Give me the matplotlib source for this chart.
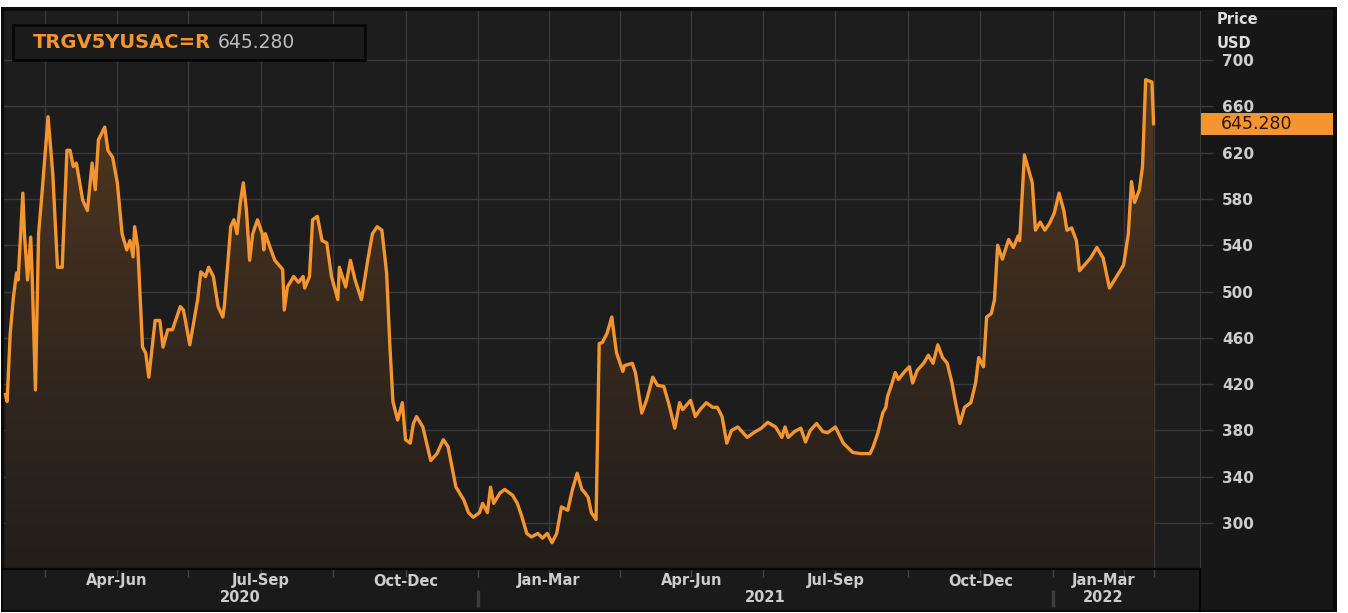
import matplotlib
matplotlib.use("Agg")
import matplotlib.pyplot as plt
import matplotlib.dates as mdates
from matplotlib.patches import Rectangle, Polygon
from matplotlib.colors import LinearSegmentedColormap
import numpy as np
import pandas as pd

# ---------------------------------------------------------------- data
ric        = "TRGV5YUSAC=R"
last_value = "645.280"
start_day  = pd.Timestamp("2020-03-01")

# day offsets from start_day, and the price
day_offset = [6, 7, 9, 11, 13, 14, 17, 18, 20, 22, 23, 25, 27, 29, 33, 36, 39, 42, 45, 47,
              49, 51, 55, 58, 61, 63, 65, 69, 71, 74, 77, 80, 83, 85, 87, 88, 90, 93, 95, 97,
              101, 104, 106, 109, 112, 117, 119, 123, 128, 130, 133, 135, 138, 141, 144, 145, 149, 151, 153, 155,
              157, 159, 161, 163, 166, 169, 170, 171, 174, 177, 182, 183, 185, 189, 192, 195, 196, 199, 201, 204,
              207, 210, 213, 217, 218, 222, 225, 228, 232, 236, 239, 242, 245, 248, 250, 252, 255, 258, 260, 263,
              265, 267, 271, 276, 280, 284, 287, 292, 293, 297, 300, 303, 307, 309, 312, 314, 316, 320, 323, 328,
              331, 334, 337, 340, 344, 347, 350, 353, 356, 359, 363, 366, 369, 372, 374, 376, 378, 381, 383, 385,
              388, 391, 392, 394, 398, 399, 404, 406, 410, 413, 417, 420, 424, 427, 431, 434, 436, 441, 444, 447,
              451, 455, 458, 461, 464, 467, 471, 477, 481, 486, 490, 495, 499, 501, 503, 507, 511, 514, 517, 521,
              525, 528, 533, 538, 544, 549, 555, 557, 560, 563, 565, 566, 569, 571, 573, 577, 580, 582, 585, 589,
              592, 595, 598, 601, 604, 607, 609, 612, 615, 619, 622, 624, 627, 629, 632, 634, 636, 639, 643, 646,
              649, 650, 653, 658, 660, 663, 666, 669, 672, 675, 678, 680, 683, 686, 688, 695, 699, 703, 707, 712,
              716, 719, 721, 723, 726, 728, 730, 734, 735]
price = [411, 405, 464, 495, 516, 510, 585, 550, 510, 547, 510, 415, 550, 582, 651, 602, 521, 521, 622, 622,
         608, 611, 579, 570, 611, 588, 631, 642, 622, 616, 594, 550, 536, 544, 530, 556, 538, 452, 447, 426,
         475, 475, 452, 467, 467, 487, 484, 454, 493, 517, 513, 521, 513, 487, 478, 488, 556, 562, 550, 576,
         594, 570, 527, 550, 562, 550, 536, 550, 538, 527, 519, 484, 504, 513, 508, 513, 503, 513, 562, 565,
         544, 542, 513, 493, 521, 504, 527, 510, 493, 527, 550, 556, 553, 516, 455, 405, 389, 404, 372, 369,
         386, 392, 383, 354, 360, 372, 366, 331, 329, 320, 309, 305, 309, 317, 309, 331, 317, 326, 329, 324,
         317, 305, 291, 288, 291, 287, 291, 283, 291, 314, 311, 329, 343, 329, 326, 322, 309, 303, 455, 456,
         464, 478, 467, 447, 431, 436, 438, 430, 395, 406, 426, 419, 418, 404, 382, 404, 398, 406, 392, 398,
         404, 400, 400, 392, 369, 380, 383, 374, 378, 382, 387, 383, 374, 383, 374, 379, 382, 370, 380, 386,
         379, 378, 383, 369, 361, 360, 360, 366, 378, 395, 400, 409, 421, 430, 424, 431, 435, 421, 432, 438,
         445, 438, 454, 443, 438, 421, 406, 386, 400, 404, 421, 443, 435, 478, 481, 493, 540, 528, 545, 538,
         548, 544, 618, 594, 553, 560, 553, 559, 568, 585, 570, 553, 555, 544, 518, 529, 538, 529, 503, 514,
         523, 550, 595, 577, 588, 608, 683, 681, 645]

y_ticks       = [300, 340, 380, 420, 460, 500, 540, 580, 620, 660, 700]
quarter_names = {1: "Jan-Mar", 4: "Apr-Jun", 7: "Jul-Sep", 10: "Oct-Dec"}
years         = [2020, 2021, 2022]

# ---------------------------------------------------------------- colours
ORANGE   = "#f5952f"
PLOT_BG  = "#1d1d1d"
PANEL_BG = "#171717"
BAND_BG  = "#1a1a1a"
GRID     = "#3a3a3a"
EDGE     = "#0b0b0b"
TXT      = "#cdcdcd"

W, H = 1348, 613
fig = plt.figure(figsize=(W / 100, H / 100), dpi=100)
fig.patch.set_facecolor("white")

def fx(px):
    return px / W

def fy(py):
    return 1 - py / H

# outer dark frame + right panel + x band (behind the axes)
fig.add_artist(Rectangle((fx(1), fy(612)), fx(1337) - fx(1), (612 - 7) / H,
                         facecolor=EDGE, edgecolor="none", zorder=-3))
fig.add_artist(Rectangle((fx(1201), fy(610)), fx(1333) - fx(1201), (610 - 10) / H,
                         facecolor=PANEL_BG, edgecolor="none", zorder=-2))
fig.add_artist(Rectangle((fx(3), fy(610)), fx(1199) - fx(3), (610 - 570) / H,
                         facecolor=BAND_BG, edgecolor="none", zorder=-2))

ax = fig.add_axes([fx(3), fy(569), fx(1200) - fx(3), (569 - 9) / H])
ax.set_facecolor(PLOT_BG)

dates = start_day + pd.to_timedelta(day_offset, unit="D")
xnum = mdates.date2num(dates)
vals = np.array(price, dtype=float)

x_left  = mdates.date2num(start_day + pd.Timedelta(days=4.4))
x_right = mdates.date2num(start_day + pd.Timedelta(days=764.5))
y_bot, y_top = 260.3, 744.1

# gradient fill under the line
verts = list(zip(xnum, vals)) + [(xnum[-1], y_bot), (xnum[0], y_bot)]
poly = Polygon(verts, closed=True, facecolor="none", edgecolor="none")
ax.add_patch(poly)
cmap = LinearSegmentedColormap.from_list("fill", ["#221e1b", "#3a2b1f", "#5e3e1c"])
grad = np.linspace(0, 1, 256).reshape(-1, 1)
im = ax.imshow(grad, extent=[x_left, x_right, y_bot, y_top], origin="lower",
               cmap=cmap, aspect="auto", zorder=1, interpolation="bicubic")
im.set_clip_path(poly)

ax.plot(xnum, vals, color=ORANGE, lw=2.4, zorder=3, solid_joinstyle="round")

ax.set_xlim(x_left, x_right)
ax.set_ylim(y_bot, y_top)

# vertical grid: quarter starts, mid quarters and the last data point
q_starts = pd.date_range("2020-01-01", "2022-04-01", freq="QS")
grid_x = []
for a, b in zip(q_starts[:-1], q_starts[1:]):
    for d in (a, a + (b - a) / 2):
        v = mdates.date2num(d)
        if x_left < v < xnum[-1]:
            grid_x.append(v)
grid_x.append(xnum[-1])

ax.set_xticks(grid_x)
ax.set_xticklabels([])
ax.tick_params(axis="x", length=6, width=1, color="#464646", direction="out")

ax.set_yticks(y_ticks)
ax.yaxis.tick_right()
ax.tick_params(axis="y", length=9, width=1, color=GRID, pad=7,
               labelsize=11, labelcolor=TXT)
for lbl in ax.get_yticklabels():
    lbl.set_fontweight("bold")

ax.grid(True, color=GRID, lw=1)
ax.set_axisbelow(True)

ax.spines["top"].set_color(EDGE)
ax.spines["top"].set_linewidth(2)
ax.spines["bottom"].set_color("#050505")
ax.spines["bottom"].set_linewidth(1.6)
ax.spines["left"].set_color(EDGE)
ax.spines["right"].set_color(GRID)

# quarter and year labels in the band under the plot
xt = ax.get_xaxis_transform()
y_q = -(581 - 569) / 560
y_y = -(598 - 569) / 560
for a, b in zip(q_starts[:-1], q_starts[1:]):
    lo = max(mdates.date2num(a), x_left)
    hi = min(mdates.date2num(b), xnum[-1])
    if hi - lo > 45:
        ax.text((lo + hi) / 2, y_q, quarter_names[a.month], transform=xt,
                ha="center", va="center", fontsize=10.5, fontweight="bold", color=TXT)

for yr in years:
    lo = max(mdates.date2num(pd.Timestamp(f"{yr}-01-01")), x_left)
    hi = min(mdates.date2num(pd.Timestamp(f"{yr + 1}-01-01")), xnum[-1])
    ax.text((lo + hi) / 2, y_y, str(yr), transform=xt,
            ha="center", va="center", fontsize=10.5, fontweight="bold", color=TXT)
    if yr > years[0]:
        xs = mdates.date2num(pd.Timestamp(f"{yr}-01-01"))
        ax.plot([xs, xs], [-(590 - 569) / 560, -(607 - 569) / 560], transform=xt,
                color="#3c3c3c", lw=2.5, clip_on=False, solid_capstyle="butt")

# black divider between x band and right panel
fig.add_artist(plt.Line2D([fx(1200), fx(1200)], [fy(570), fy(611)], color="#050505", lw=1.5))

# legend box, top left
fig.add_artist(Rectangle((fx(13), fy(60)), fx(365) - fx(13), (60 - 25) / H,
                         facecolor="#1b1b1b", edgecolor="#070707", lw=2))
t1 = fig.text(fx(33), fy(42), ric, ha="left", va="center", fontsize=14,
              fontweight="bold", color=ORANGE)
fig.canvas.draw()
bb = t1.get_window_extent(renderer=fig.canvas.get_renderer())
fig.text((bb.x1 + 7) / W, fy(42), last_value, ha="left", va="center",
         fontsize=13.5, color="#bdbdbd")

# right panel header and last value marker
fig.text(fx(1217), fy(20), "Price", ha="left", va="center", fontsize=10.5,
         fontweight="bold", color="#dedede")
fig.text(fx(1217), fy(44), "USD", ha="left", va="center", fontsize=10.5,
         fontweight="bold", color="#dedede")
fig.add_artist(Rectangle((fx(1201), fy(135)), fx(1333) - fx(1201), (135 - 113) / H,
                         facecolor=ORANGE, edgecolor="none"))
fig.text(fx(1221), fy(124), last_value, ha="left", va="center", fontsize=12.5, color="#2a1508")

fig.savefig("out.png", dpi=100, facecolor=fig.get_facecolor())
